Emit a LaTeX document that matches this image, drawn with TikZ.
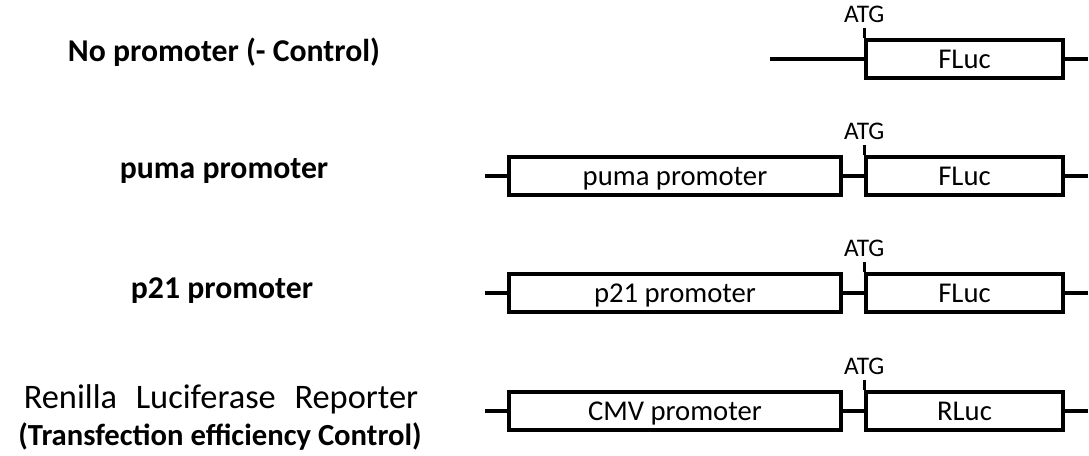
\documentclass[tikz,border=0pt]{standalone}
\usepackage{fontspec}
\setmainfont{Carlito}
\begin{document}
\begin{tikzpicture}[x=0.75pt,y=-0.75pt,
  wire/.style={line width=2.6pt},
  part/.style={draw, line width=2.6pt, rectangle, inner sep=0pt,
    minimum height=28.5pt, text height=13.6pt, text depth=0pt,
    font=\fontsize{21.5}{24}\selectfont},
  gene/.style={part, minimum width=147.75pt},
  prom/.style={part, minimum width=249pt},
  atg/.style={font=\fontsize{19}{22}\selectfont, inner sep=0pt},
  rowlabel/.style={font=\fontsize{23.8}{26}\selectfont\bfseries, inner sep=0pt},
  plainlabel/.style={font=\fontsize{25.8}{28}\selectfont, inner sep=0pt}]
\useasboundingbox (0,0) rectangle (1089,455);

% ---- Row 1: promoterless construct ----
\node[rowlabel] (l1) at (224,52) {No promoter (- Control)};
\node[gene] (f1) at (964.5,59) {FLuc};
\coordinate (s1) at (770,59);
\coordinate (e1) at (1088,59);
\draw[wire] (s1) -- (f1.west);
\draw[wire] (f1.east) -- (e1);
\coordinate (t1) at ([yshift=7.5pt]f1.north west);
\draw[wire] (f1.north west) -- (t1);
\node[atg] (a1) at ([yshift=18pt]f1.north west) {ATG};

% ---- Row 2: puma promoter ----
\node[rowlabel] (l2) at (224,171) {puma promoter};
\node[prom] (p2) at (675,176) {puma promoter};
\node[gene] (f2) at (964.5,176) {FLuc};
\coordinate (s2) at (485,176);
\coordinate (e2) at (1088,176);
\draw[wire] (s2) -- (p2.west);
\draw[wire] (p2.east) -- (f2.west);
\draw[wire] (f2.east) -- (e2);
\coordinate (t2) at ([yshift=7.5pt]f2.north west);
\draw[wire] (f2.north west) -- (t2);
\node[atg] (a2) at ([yshift=18pt]f2.north west) {ATG};

% ---- Row 3: p21 promoter ----
\node[rowlabel] (l3) at (222,291) {p21 promoter};
\node[prom] (p3) at (675,293) {p21 promoter};
\node[gene] (f3) at (964.5,293) {FLuc};
\coordinate (s3) at (485,293);
\coordinate (e3) at (1088,293);
\draw[wire] (s3) -- (p3.west);
\draw[wire] (p3.east) -- (f3.west);
\draw[wire] (f3.east) -- (e3);
\coordinate (t3) at ([yshift=7.5pt]f3.north west);
\draw[wire] (f3.north west) -- (t3);
\node[atg] (a3) at ([yshift=18pt]f3.north west) {ATG};

% ---- Row 4: Renilla normalisation reporter ----
\node[plainlabel] (l4a) at (221,399) {Renilla\hspace{14pt}Luciferase\hspace{14pt}Reporter};
\node[rowlabel, font=\fontsize{23}{26}\selectfont\bfseries] (l4b) at (220,437) {(Transfection efficiency Control)};
\node[prom] (p4) at (675,411) {CMV promoter};
\node[gene] (f4) at (964.5,411) {RLuc};
\coordinate (s4) at (485,411);
\coordinate (e4) at (1088,411);
\draw[wire] (s4) -- (p4.west);
\draw[wire] (p4.east) -- (f4.west);
\draw[wire] (f4.east) -- (e4);
\coordinate (t4) at ([yshift=7.5pt]f4.north west);
\draw[wire] (f4.north west) -- (t4);
\node[atg] (a4) at ([yshift=18pt]f4.north west) {ATG};
\end{tikzpicture}
\end{document}
